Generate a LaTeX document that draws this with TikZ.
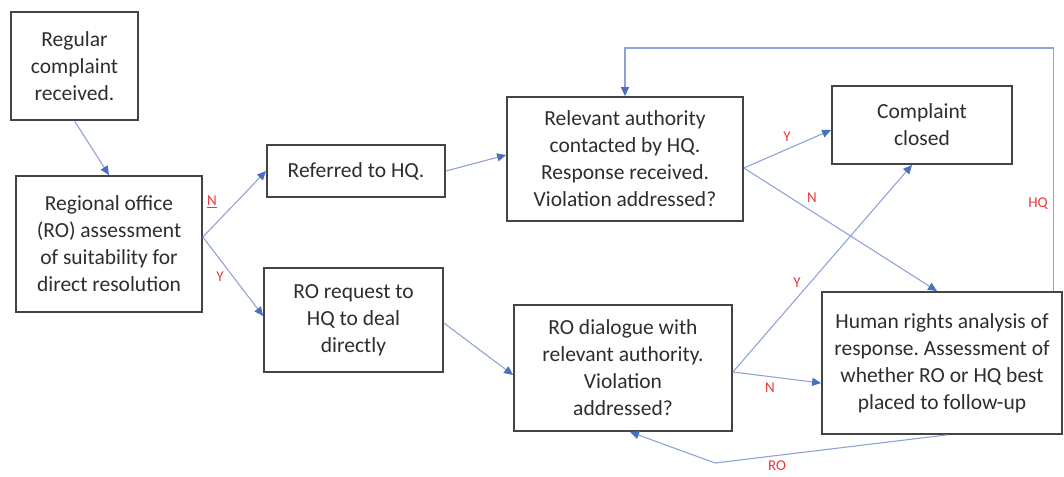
\documentclass[tikz,border=0pt]{standalone}
\usepackage{fontspec}
\setmainfont{Carlito}
\usetikzlibrary{arrows.meta}
\frenchspacing
\definecolor{boxline}{HTML}{444444}
\definecolor{linkline}{HTML}{8EA4D6}
\definecolor{linktip}{HTML}{4A6FC0}
\definecolor{lblred}{HTML}{E8383D}
\tikzset{
  stepbox/.style={draw=boxline, line width=1.8pt, fill=white, align=center,
    inner sep=2pt, text=black!82, font=\fontsize{21.5}{27}\selectfont},
  link/.style={draw=linkline, line width=1.1pt,
    -{Triangle[length=9pt,width=8pt,color=linktip,fill=linktip]}},
  lbl/.style={text=lblred, font=\fontsize{15}{15}\selectfont, inner sep=0pt}
}

\begin{document}
\begin{tikzpicture}[x=1pt,y=-1pt]
			%%%%% START %%%%%
			\useasboundingbox (0,0) rectangle (1064,476);
			
			\node[stepbox, minimum width=127pt, minimum height=108pt] (recv) at (74.5,66) {Regular\\complaint\\received.};
			\node[stepbox, minimum width=186pt, minimum height=136pt] (assess) at (109,244) {Regional office\\(RO) assessment\\of suitability for\\direct resolution};
			
			\node[stepbox, minimum width=178pt, minimum height=52pt] (refhq) at (356,171) {Referred to HQ.};
			\node[stepbox, minimum width=179pt, minimum height=104pt] (roreq) at (353.5,320) {RO request to\\HQ to deal\\directly};
			
			\node[stepbox, minimum width=236pt, minimum height=124pt] (hqcontact) at (625,159) {Relevant authority\\contacted by HQ.\\Response received.\\Violation addressed?};
			\node[stepbox, minimum width=218pt, minimum height=126pt] (rodialog) at (623,368) {RO dialogue with\\relevant authority.\\Violation\\addressed?};
			
			\node[stepbox, minimum width=180pt, minimum height=78pt] (closed) at (922,125) {Complaint\\closed};
			\node[stepbox, minimum width=240pt, minimum height=142pt] (analysis) at (942,363) {Human rights analysis of\\response. Assessment of\\whether RO or HQ best\\placed to follow-up};
			
			\coordinate (rodip) at (715,463);
			\coordinate (hqtop) at (625,48);
			
			\draw[link] (recv.south) -- (assess.north);
			\draw[link] ([yshift=7pt]assess.east) -- (refhq.west);
			\draw[link] ([yshift=7pt]assess.east) -- ([yshift=4pt]roreq.west);
			\draw[link] (refhq.east) -- ([yshift=4pt]hqcontact.west);
			\draw[link] ([yshift=-3pt]roreq.east) -- ([yshift=-7pt]rodialog.west);
			
			\draw[link] ([yshift=-9pt]hqcontact.east) -- ([yshift=-5pt]closed.west);
			\draw[link] ([yshift=-9pt]hqcontact.east) -- ([xshift=-5pt]analysis.north);
			\draw[link] ([yshift=-4pt]rodialog.east) -- ([xshift=-10pt]closed.south);
			\draw[link] ([yshift=-4pt]rodialog.east) -- ([yshift=-20pt]analysis.west);
			
			\draw[link] ([xshift=5pt]analysis.south) -- (rodip) -- ([xshift=7pt]rodialog.south);
			\draw[link] ([xshift=-9pt]analysis.north east) |- (hqtop) -- (hqcontact.north);
			
			\node[lbl] (nA) at (212,202) {\underline{N}};
			\node[lbl] (yA) at (220,277) {Y};
			\node[lbl] (yB) at (787,137) {Y};
			\node[lbl] (nB) at (812,198) {N};
			\node[lbl] (yC) at (797,283) {Y};
			\node[lbl] (nC) at (770,388) {N};
			\node[lbl] (ro) at (777,466) {RO};
			\node[lbl] (hq) at (1038,204) {HQ};
			%%%%% END %%%%%
		\end{tikzpicture}
\end{document}
